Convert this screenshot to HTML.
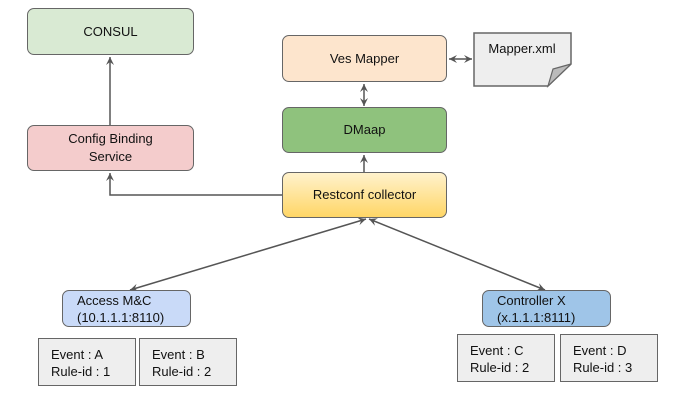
<!DOCTYPE html>
<html><head><style>
body{margin:0;width:677px;height:400px;background:#fff;font-family:"Liberation Sans",sans-serif;font-size:13px;color:#111;position:relative;overflow:hidden}
.b{position:absolute;box-sizing:border-box;border:1.5px solid #666;border-radius:7px;display:flex;align-items:center;justify-content:center;text-align:center;line-height:18px}
.e{position:absolute;box-sizing:border-box;border:1.5px solid #666;background:#eee;padding:7px 0 0 12px;line-height:17px}
svg{position:absolute;left:0;top:0}
</style></head><body>
<svg width="677" height="400">
<defs><marker id="a" markerWidth="10" markerHeight="10" refX="8" refY="5" orient="auto-start-reverse" markerUnits="userSpaceOnUse"><path d="M0,1 L8,5 L0,9 L3,5 Z" fill="#555"/></marker></defs>
<g stroke="#555" stroke-width="1.5" fill="none">
<line x1="110" y1="125" x2="110" y2="57" marker-end="url(#a)"/>
<polyline points="282,195 110,195 110,173" marker-end="url(#a)"/>
<line x1="364" y1="172" x2="364" y2="155" marker-end="url(#a)"/>
<line x1="364" y1="106" x2="364" y2="84" marker-start="url(#a)" marker-end="url(#a)"/>
<line x1="449" y1="59" x2="472" y2="59" marker-start="url(#a)" marker-end="url(#a)"/>
<line x1="130" y1="290" x2="366" y2="219" marker-start="url(#a)" marker-end="url(#a)"/>
<line x1="545" y1="290" x2="369" y2="219" marker-start="url(#a)" marker-end="url(#a)"/>
</g>
<path d="M474,33 L571,33 L571,64 L548,86 L474,86 Z" fill="#eee" stroke="#666" stroke-width="1.5"/>
<path d="M571,64 L553,69 L548,86 Z" fill="#bbb" stroke="#666" stroke-width="1.2"/>
<text x="522" y="53" text-anchor="middle" font-family="Liberation Sans" font-size="13" fill="#111">Mapper.xml</text>
</svg>
<div class="b" style="left:27px;top:8px;width:167px;height:47px;background:#d9ead3">CONSUL</div>
<div class="b" style="left:27px;top:125px;width:167px;height:46px;background:#f4cccc">Config Binding<br>Service</div>
<div class="b" style="left:282px;top:35px;width:165px;height:47px;background:#fde5cd">Ves Mapper</div>
<div class="b" style="left:282px;top:107px;width:165px;height:46px;background:#8fc27d">DMaap</div>
<div class="b" style="left:282px;top:172px;width:165px;height:46px;background:linear-gradient(#fff2cc,#ffd666)">Restconf collector</div>
<div class="b" style="left:62px;top:290px;width:129px;height:37px;background:#c9daf8;justify-content:flex-start;text-align:left;padding-left:14px;line-height:17px">Access M&amp;C<br>(10.1.1.1:8110)</div>
<div class="b" style="left:482px;top:290px;width:129px;height:37px;background:#9fc5e8;justify-content:flex-start;text-align:left;padding-left:14px;line-height:17px">Controller X<br>(x.1.1.1:8111)</div>
<div class="e" style="left:38px;top:338px;width:98px;height:48px">Event : A<br>Rule-id : 1</div>
<div class="e" style="left:139px;top:338px;width:98px;height:48px">Event : B<br>Rule-id : 2</div>
<div class="e" style="left:457px;top:334px;width:98px;height:48px">Event : C<br>Rule-id : 2</div>
<div class="e" style="left:560px;top:334px;width:98px;height:48px">Event : D<br>Rule-id : 3</div>
</body></html>
